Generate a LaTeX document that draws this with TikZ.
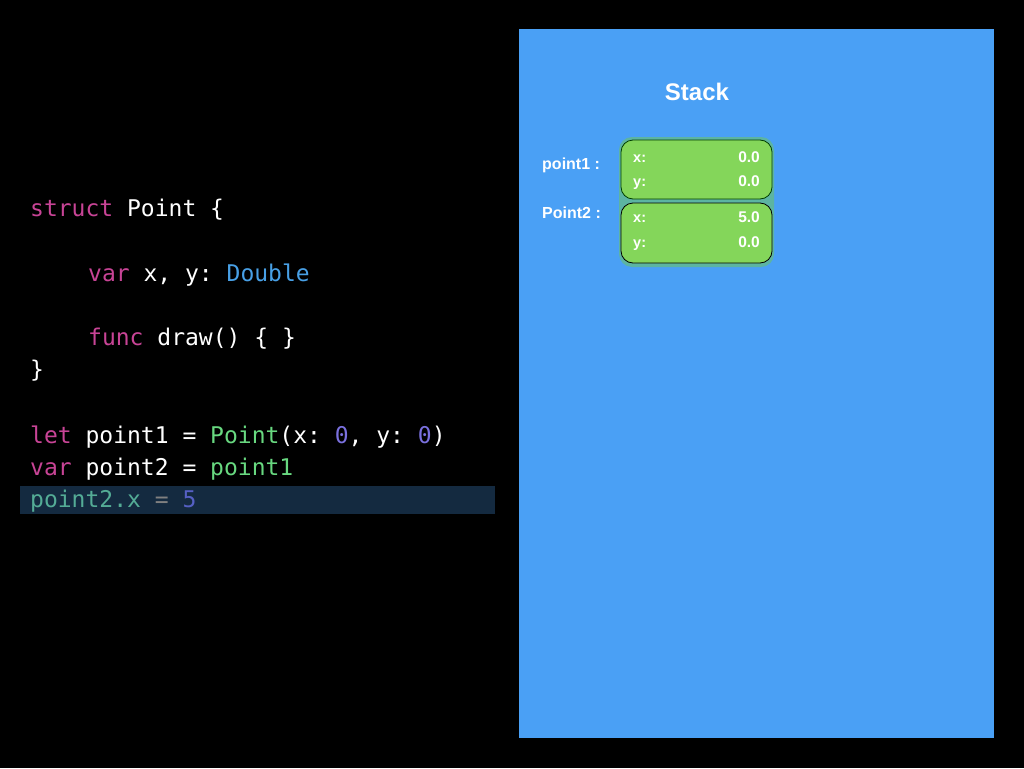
\documentclass[tikz,border=0pt]{standalone}
\usepackage{fontspec}
\setmainfont{Liberation Sans}
\setmonofont{DejaVu Sans Mono}
\usepackage{xcolor}
\usetikzlibrary{positioning}

\definecolor{kwpink}{RGB}{200,68,150}
\definecolor{typeblue}{RGB}{72,160,230}
\definecolor{valgreen}{RGB}{104,216,128}
\definecolor{numpurple}{RGB}{122,112,222}
\definecolor{assignteal}{RGB}{84,172,150}
\definecolor{assignnum}{RGB}{86,96,196}
\definecolor{linebar}{RGB}{20,42,64}
\definecolor{panelblue}{RGB}{74,160,245}
\definecolor{cellgreen}{RGB}{132,214,90}
\definecolor{backteal}{RGB}{92,180,162}

\begin{document}
\begin{tikzpicture}[x=1pt,y=-1pt,
  code/.style={anchor=base west,inner sep=0pt,text=white,
    font=\ttfamily\fontsize{23}{27}\selectfont},
  cell/.style={fill=cellgreen,rounded corners=12pt,line width=0.8pt,
    minimum width=151pt,inner sep=0pt},
  lbl/.style={anchor=base west,inner sep=0pt,text=white,
    font=\bfseries\fontsize{16}{19}\selectfont}]
\useasboundingbox (0,0) rectangle (1024,768);
\fill[black] (0,0) rectangle (1024,768);
% source code
\fill[linebar] (20,486) rectangle (495,514);
\node[code] (struct) at (30,216) {\textcolor{kwpink}{struct} Point \{};
\node[code] (field) at (88,281) {\textcolor{kwpink}{var} x, y: \textcolor{typeblue}{Double}};
\node[code] (func) at (88,345) {\textcolor{kwpink}{func} draw() \{ \}};
\node[code] (close) at (30,377) {\}};
\node[code] (let) at (30,443) {\textcolor{kwpink}{let} point1 = \textcolor{valgreen}{Point}(x: \textcolor{numpurple}{0}, y: \textcolor{numpurple}{0})};
\node[code] (var) at (30,475) {\textcolor{kwpink}{var} point2 = \textcolor{valgreen}{point1}};
\node[code] (assign) at (30,507) {\textcolor{assignteal}{point2.x} \textcolor{gray}{=} \textcolor{assignnum}{5}};
% stack
\fill[panelblue] (519,29) rectangle (994,738);
\node[text=white,font=\bfseries\fontsize{24}{28}\selectfont] (stack) at (697,92) {Stack};
\fill[backteal,rounded corners=13pt] (619,137) rectangle (774,267);
\node[cell,draw=black!60!green!60!black,minimum height=59pt] (p1) at (696.5,169.5) {};
\node[cell,draw=black,minimum height=60pt] (p2) at (696.5,233) {};
\node[lbl] (p1name) at (542,169) {point1 :};
\node[lbl] (p2name) at (542,218) {Point2 :};
\foreach \n/\y/\k/\v in {p1x/162/x/0.0,p1y/186/y/0.0,p2x/222/x/5.0,p2y/247/y/0.0}{
  \node[lbl,font=\bfseries\fontsize{14.5}{17}\selectfont] (\n) at (633,\y) {\k:};
  \node[lbl,anchor=base east,font=\bfseries\fontsize{15.5}{18}\selectfont] (\n val) at (760,\y) {\v};
}
\end{tikzpicture}
\end{document}
